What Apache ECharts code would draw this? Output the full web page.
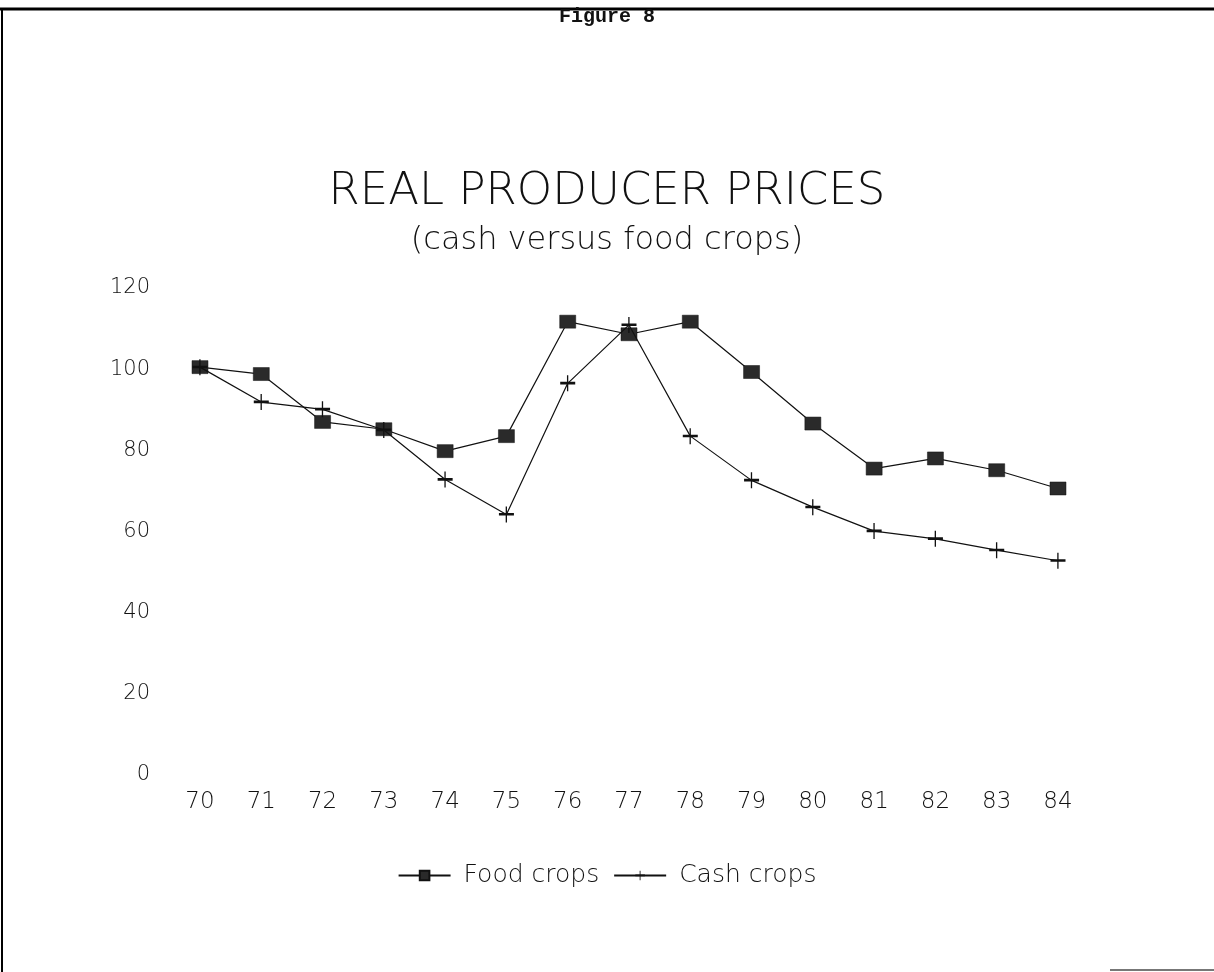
<!DOCTYPE html>
<html>
<head>
<meta charset="utf-8">
<script src="https://cdn.jsdelivr.net/npm/echarts@6/dist/echarts.min.js"></script>
<style>
html,body{margin:0;padding:0;background:#fff;}
#chart{width:1214px;height:972px;}
</style>
</head>
<body>
<div id="chart"></div>
<script>
const years = ['70','71','72','73','74','75','76','77','78','79','80','81','82','83','84'];
const foodCrops = [100.5, 98.8, 87.0, 85.2, 79.8, 83.5, 111.7, 108.6, 111.7, 99.3, 86.6, 75.5, 78.0, 75.1, 70.6];
const cashCrops = [100.5, 91.9, 90.1, 85.0, 72.8, 64.2, 96.5, 110.9, 83.5, 72.6, 66.0, 60.1, 58.2, 55.4, 52.8];
const yTicks = [0, 20, 40, 60, 80, 100, 120];

const plotFont = "'DejaVu Sans ExtraLight', 'DejaVu Sans', sans-serif";
const chart = echarts.init(document.getElementById('chart'));
const crossPath = 'path://M0,6.5h7.2v-6.5h1.4v6.5h7.4v2.6h-7.4v6.9h-1.4v-6.9h-7.2z';

chart.setOption({
  backgroundColor: '#ffffff',
  animation: false,
  title: [
    { text: 'Figure 8', left: 'center', top: 2,
      textStyle: { fontFamily: "'Liberation Mono', monospace", fontSize: 20, fontWeight: 'bold', color: '#111' } },
    { text: 'REAL PRODUCER PRICES', left: 'center', top: 165,
      textStyle: { fontFamily: plotFont, fontSize: 45, fontWeight: 200, color: '#111' } },
    { text: '(cash versus food crops)', left: 'center', top: 220,
      textStyle: { fontFamily: plotFont, fontSize: 32, fontWeight: 200, color: '#111' } }
  ],
  graphic: [
    { type: 'line', shape: { x1: 0, y1: 9, x2: 1214, y2: 9 }, style: { stroke: '#000', lineWidth: 3 } },
    { type: 'line', shape: { x1: 2, y1: 9, x2: 2, y2: 972 }, style: { stroke: '#000', lineWidth: 2 } },
    { type: 'line', shape: { x1: 1110, y1: 970, x2: 1214, y2: 970 }, style: { stroke: '#777', lineWidth: 2 } }
  ],
  legend: {
    top: 858,
    left: 'center',
    itemWidth: 52,
    itemHeight: 12,
    itemGap: 14,
    textStyle: { fontFamily: plotFont, fontSize: 25, fontWeight: 200, color: '#111', padding: [0, 0, 0, 8] },
    data: ['Food crops', 'Cash crops']
  },
  grid: { left: 200, right: 156, top: 288, bottom: 197, containLabel: false },
  xAxis: {
    type: 'category',
    data: years,
    boundaryGap: false,
    axisLine: { show: false },
    axisTick: { show: false },
    splitLine: { show: false },
    axisLabel: { margin: 16, fontFamily: plotFont, fontSize: 23, fontWeight: 200, color: '#111' }
  },
  yAxis: {
    type: 'value',
    min: yTicks[0],
    max: yTicks[yTicks.length - 1],
    interval: 20,
    axisLine: { show: false },
    axisTick: { show: false },
    splitLine: { show: false },
    axisLabel: { margin: 50, fontFamily: plotFont, fontSize: 21, fontWeight: 200, color: '#111' }
  },
  series: [
    {
      name: 'Food crops',
      type: 'line',
      data: foodCrops,
      symbol: 'rect',
      symbolSize: [16, 13],
      showAllSymbol: true,
      lineStyle: { color: '#111', width: 1.2 },
      itemStyle: { color: '#2a2a2a', borderColor: '#111', borderWidth: 0.5 },
      z: 3
    },
    {
      name: 'Cash crops',
      type: 'line',
      data: cashCrops,
      symbol: crossPath,
      symbolSize: [15, 16],
      showAllSymbol: true,
      lineStyle: { color: '#111', width: 1.2 },
      itemStyle: { color: '#111' },
      z: 4
    }
  ]
});
</script>
</body>
</html>
